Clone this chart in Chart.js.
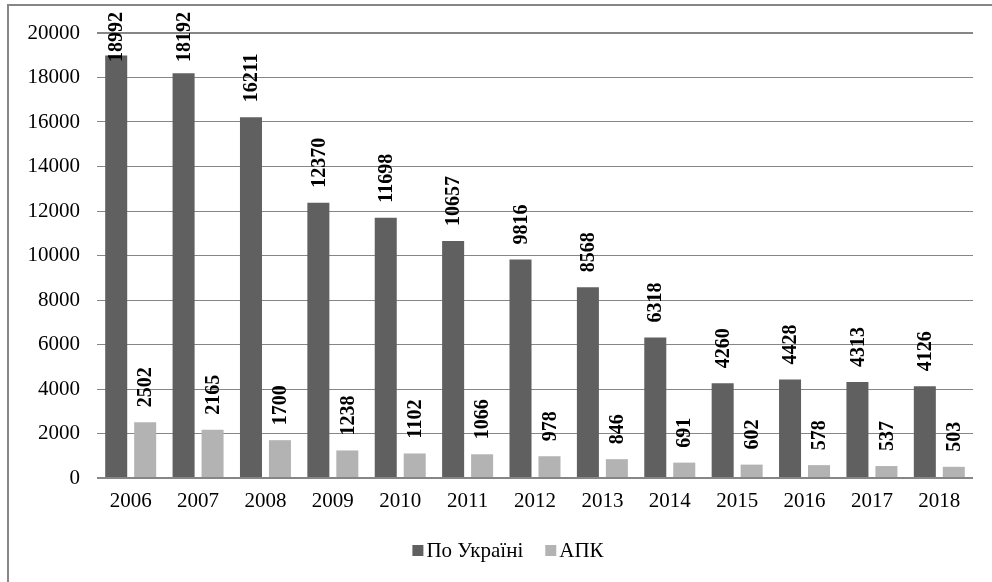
<!DOCTYPE html>
<html>
<head>
<meta charset="utf-8">
<script src="https://cdn.jsdelivr.net/npm/chart.js@4/dist/chart.umd.min.js"></script>
<style>
  html, body { margin: 0; padding: 0; background: #fff; }
  #wrap { position: relative; width: 992px; height: 582px; overflow: hidden; }
  #frame { position: absolute; left: 7px; top: 4px; width: 1100px; height: 700px; border-left: 2px solid #868686; border-top: 2px solid #868686; }
  canvas { position: absolute; left: 0; top: 0; }
</style>
</head>
<body>
<div id="wrap">
  <div id="frame"></div>
  <canvas id="c" width="992" height="582"></canvas>
</div>
<script>
const categories = ['2006','2007','2008','2009','2010','2011','2012','2013','2014','2015','2016','2017','2018'];
const ukraineValues = [18992,18192,16211,12370,11698,10657,9816,8568,6318,4260,4428,4313,4126];
const apkValues = [2502,2165,1700,1238,1102,1066,978,846,691,602,578,537,503];
const seriesNames = ['По Україні', 'АПК'];
const yTicks = [0,2000,4000,6000,8000,10000,12000,14000,16000,18000,20000];

const FONT = '"Liberation Serif", "DejaVu Serif", serif';

const valueLabels = {
  id: 'valueLabels',
  afterDatasetsDraw(chart) {
    const ctx = chart.ctx;
    ctx.save();
    ctx.font = 'bold 20px ' + FONT;
    ctx.fillStyle = '#000';
    chart.data.datasets.forEach((ds, di) => {
      const meta = chart.getDatasetMeta(di);
      meta.data.forEach((bar, i) => {
        const txt = String(ds.data[i]);
        const len = ctx.measureText(txt).width;
        let bottom = bar.y - 15;
        if (bottom - len < 12) bottom = 12 + len;
        ctx.save();
        ctx.translate(bar.x + 1, bottom);
        ctx.rotate(-Math.PI / 2);
        ctx.textAlign = 'left';
        ctx.textBaseline = 'middle';
        ctx.fillText(txt, 0, 0);
        ctx.restore();
      });
    });
    ctx.restore();
  }
};

const customLegend = {
  id: 'customLegend',
  afterDraw(chart) {
    const ctx = chart.ctx;
    ctx.save();
    ctx.font = '21px ' + FONT;
    const box = 11, gapText = 3, gapItem = 22;
    const items = chart.data.datasets.map(d => ({ text: d.label, color: d.backgroundColor, w: ctx.measureText(d.label).width }));
    let total = 0;
    items.forEach((it, i) => { total += box + gapText + it.w + (i < items.length - 1 ? gapItem : 0); });
    let x = 508 - total / 2;
    const cy = 550;
    items.forEach(it => {
      ctx.fillStyle = it.color;
      ctx.fillRect(x, cy - 5, box, box);
      x += box + gapText;
      ctx.fillStyle = '#000';
      ctx.textAlign = 'left';
      ctx.textBaseline = 'middle';
      ctx.fillText(it.text, x, cy + 1);
      x += it.w + gapItem;
    });
    ctx.restore();
  }
};

function build() {
  new Chart(document.getElementById('c'), {
    type: 'bar',
    data: {
      labels: categories,
      datasets: [
        { label: seriesNames[0], data: ukraineValues, backgroundColor: '#606060', categoryPercentage: 0.86, barPercentage: 0.76 },
        { label: seriesNames[1], data: apkValues, backgroundColor: '#b3b3b3', categoryPercentage: 0.86, barPercentage: 0.76 }
      ]
    },
    options: {
      responsive: false,
      animation: false,
      events: [],
      layout: { padding: { top: 33, right: 19, left: 0, bottom: 0 } },
      plugins: { legend: { display: false }, tooltip: { enabled: false } },
      scales: {
        x: {
          grid: { display: false, drawTicks: false },
          border: { display: false },
          ticks: { color: '#000', font: { family: FONT, size: 21 }, padding: 11, maxRotation: 0 },
          afterFit(scale) { scale.height = 104; }
        },
        y: {
          min: 0, max: 20000,
          afterBuildTicks(scale) { scale.ticks = yTicks.map(v => ({ value: v })); },
          grid: {
            color: '#868686',
            lineWidth: c => (c.tick && (c.tick.value === 0 || c.tick.value === 20000)) ? 2 : 1,
            drawTicks: false
          },
          border: { display: false },
          ticks: { color: '#000', font: { family: FONT, size: 21 }, padding: 17, callback: v => String(v) },
          afterFit(scale) { scale.width = 97; }
        }
      }
    },
    plugins: [valueLabels, customLegend]
  });
}

Promise.all([
  document.fonts.load('21px "Liberation Serif"', 'По Україні АПК 0123456789'),
  document.fonts.load('bold 20px "Liberation Serif"', '0123456789')
]).then(build, build);
</script>
</body>
</html>
